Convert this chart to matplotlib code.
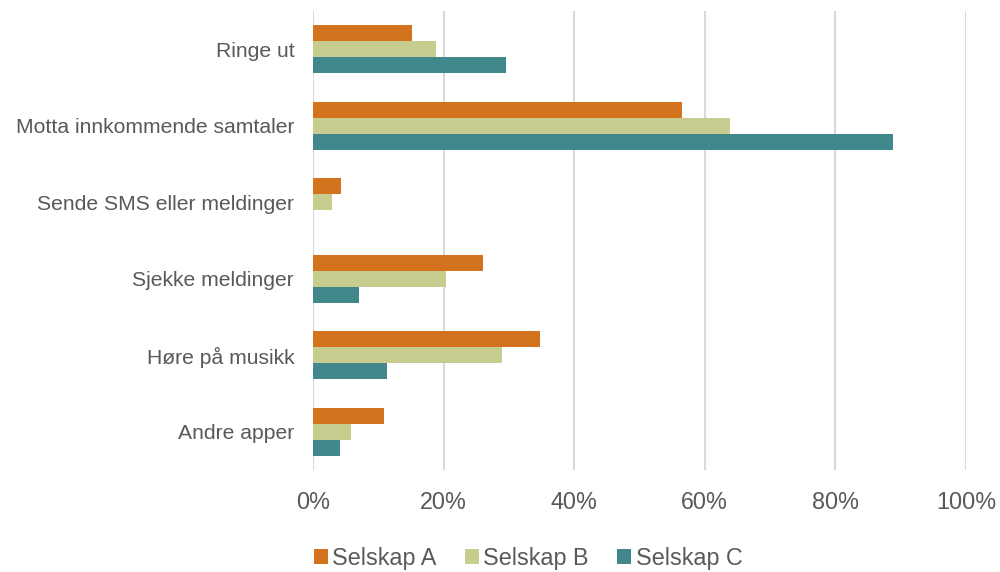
import numpy as np
import matplotlib.pyplot as plt
from matplotlib.ticker import PercentFormatter

plt.rcParams['font.family'] = ['Liberation Sans', 'DejaVu Sans']

categories = ["Ringe ut", "Motta innkommende samtaler", "Sende SMS eller meldinger",
              "Sjekke meldinger", "Høre på musikk", "Andre apper"]
series_names = ["Selskap A", "Selskap B", "Selskap C"]
selskap_a = [15.2, 56.5, 4.3, 26.1, 34.8, 10.9]
selskap_b = [18.9, 63.8, 2.9, 20.3, 29.0, 5.8]
selskap_c = [29.6, 88.8, 0.0, 7.0, 11.3, 4.2]
colors = ["#D4731E", "#C7CD8F", "#41878B"]

fig = plt.figure(figsize=(10, 5.72), dpi=100)
ax = fig.add_axes([0.313, 0.178, 0.653, 0.803])

y = np.arange(len(categories))
h = 0.21
for i, (vals, name, col) in enumerate(zip([selskap_a, selskap_b, selskap_c], series_names, colors)):
    ax.barh(y + (i - 1) * h, vals, height=h, color=col, label=name, zorder=3)

ax.set_xlim(0, 100)
ax.set_ylim(len(categories) - 0.5, -0.5)
ax.set_yticks(y)
ax.set_yticklabels(categories, fontsize=15.2, color="#595959")
ax.set_xticks(np.arange(0, 101, 20))
ax.xaxis.set_major_formatter(PercentFormatter(decimals=0))
ax.tick_params(axis='x', labelsize=16.8, labelcolor="#595959", length=0, pad=15)
ax.tick_params(axis='y', length=0, pad=13.5)
ax.grid(axis='x', color="#D9D9D9", linewidth=1.5, zorder=0)
for s in ax.spines.values():
    s.set_visible(False)

fig.legend(loc='center', bbox_to_anchor=(0.528, 0.024), ncol=3, frameon=False,
           fontsize=16.8, handlelength=0.6, handleheight=0.6, handletextpad=0.2,
           columnspacing=1.2, labelcolor="#595959")

fig.savefig("out.png", dpi=100)
